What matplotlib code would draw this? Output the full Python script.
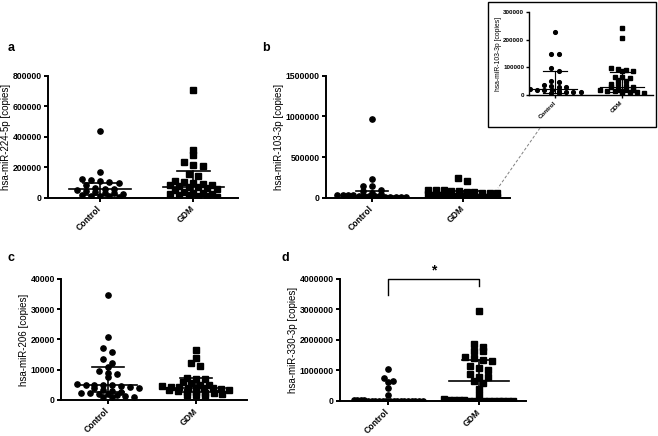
import numpy as np
import matplotlib
matplotlib.use("Agg")
import matplotlib.pyplot as plt
from matplotlib.patches import Rectangle
from matplotlib.lines import Line2D

plt.rcParams['font.family'] = ['Liberation Sans', 'DejaVu Sans']

W, H = 658, 436
groups = ["Control", "GDM"]

# panel a: hsa-miR-224-5p
a_ctrl = [437000, 170000, 120000, 115000, 110000, 100000, 95000, 80000, 65000, 60000, 58000,
          50000, 45000, 40000, 30000, 28000, 25000, 15000, 12000, 10000, 8000, 5000]
a_gdm = [705000, 310000, 280000, 235000, 215000, 210000, 155000, 140000, 110000, 100000, 95000,
         90000, 85000, 80000, 75000, 72000, 70000, 65000, 60000, 50000, 35000, 30000, 28000,
         25000, 22000, 20000, 15000, 10000, 8000, 5000]
a_med = [58000, 72000]
a_q1 = [18000, 24000]
a_q3 = [98000, 175000]

# panel b (and inset): hsa-miR-103-3p
b_ctrl = [970000, 229000, 147000, 147000, 96000, 88000, 52000, 48000, 35000, 32000, 30000,
          28000, 20000, 19000, 18000, 17000, 15000, 12000, 11000, 10000, 8000, 6000]
b_gdm = [241000, 205000, 96000, 94000, 90000, 86000, 85000, 66000, 64000, 62000, 54000, 52000,
         40000, 38000, 32000, 30000, 28000, 22000, 20000, 18000, 17000, 16000, 15000, 14000,
         12000, 10000, 8000, 6000]
b_med = [22000, 30000]
b_q1 = [8000, 12000]
b_q3 = [88000, 84000]

# panel c: hsa-miR-206
c_ctrl = [34700, 20900, 17100, 15800, 13400, 12100, 11000, 9500, 9000, 8500, 7700, 5200, 5000,
          5000, 4900, 4800, 4700, 4200, 4000, 3800, 3200, 3000, 2800, 2400, 2200, 2000, 1900,
          1800, 1200, 1100, 1000, 900]
c_gdm = [16500, 13800, 12100, 11200, 7400, 7000, 6800, 6000, 5500, 5000, 4800, 4600, 4400, 4200,
         4100, 4000, 3900, 3800, 3600, 3400, 3200, 3000, 2800, 2600, 2400, 2200, 2000, 1800,
         1500, 1300]
c_med = [5100, 4000]
c_q1 = [2650, 2600]
c_q3 = [11000, 7200]

# panel d: hsa-miR-330-3p
d_ctrl = [1040000, 765000, 656000, 613000, 415000, 197000, 30000, 25000, 20000, 18000, 15000,
          12000, 10000, 9000, 8000, 7000, 6000, 5000, 4000, 3000, 2500, 2000, 1500, 1000, 800, 500]
d_gdm = [2960000, 1860000, 1760000, 1650000, 1640000, 1430000, 1400000, 1344000, 1310000,
         1150000, 1070000, 1016000, 875000, 800000, 800000, 656000, 580000, 400000, 197000,
         60000, 40000, 30000, 25000, 20000, 15000, 12000, 10000, 8000, 6000, 5000, 4000, 3000,
         2000, 1000]
d_med = [10000, 656000]
d_q1 = [2000, 20000]
d_q3 = [30000, 1344000]


def swarm(vals, h, dx, maxw):
    # column-scatter layout: points closer than h share a row
    v = np.sort(np.array(vals, dtype=float))[::-1]
    xs = np.zeros(len(v))
    i = 0
    while i < len(v):
        j = i
        while j < len(v) and v[i] - v[j] <= h:
            j += 1
        n = j - i
        step = dx if n < 2 else min(dx, maxw / (n - 1))
        xs[i:j] = (np.arange(n) - (n - 1) / 2) * step
        i = j
    return v, xs


def panel(rect, ctrl, gdm, med, q1, q3, ymax, yticks, ylabel, xlim,
          fs_tick=6.2, fs_lab=7, ms=3.8, lw=1.4, dx=0.1, inset=False):
    ax = fig.add_axes(rect)
    h = ymax * 0.034
    for k, (vals, mk) in enumerate([(ctrl, 'o'), (gdm, 's')]):
        v, xs = swarm(vals, h, dx, 0.76)
        ax.plot(k + xs, v, linestyle='none', marker=mk, ms=ms, color='black', mec='black')
        ax.plot([k - 0.33, k + 0.33], [med[k], med[k]], color='black', lw=lw * 0.85)
        ax.plot([k - 0.18, k + 0.18], [q1[k], q1[k]], color='black', lw=lw * 0.85)
        ax.plot([k - 0.18, k + 0.18], [q3[k], q3[k]], color='black', lw=lw * 0.85)
        ax.plot([k, k], [q1[k], q3[k]], color='black', lw=lw * 0.85)
    ax.set_ylim(0, ymax)
    ax.set_xlim(*xlim)
    ax.set_yticks(yticks)
    ax.set_yticklabels([str(t) for t in yticks], fontweight='bold', fontsize=fs_tick)
    ax.set_xticks([0, 1])
    ax.set_xticklabels(groups, rotation=45, ha='right', va='center', rotation_mode='anchor',
                       fontweight='bold', fontsize=fs_tick)
    ax.tick_params(axis='both', direction='out', length=3 if not inset else 2, width=lw, pad=1.5)
    ax.tick_params(axis='x', pad=4 if not inset else 3)
    for s in ['top', 'right']:
        ax.spines[s].set_visible(False)
    for s in ['left', 'bottom']:
        ax.spines[s].set_linewidth(lw)
    ax.set_ylabel(ylabel, fontsize=fs_lab, labelpad=1)
    ax.patch.set_alpha(0)
    return ax


fig = plt.figure(figsize=(W / 100, H / 100), dpi=100)

panel([0.0729, 0.5466, 0.2888, 0.2798], a_ctrl, a_gdm, a_med, a_q1, a_q3, 800000,
      [0, 200000, 400000, 600000, 800000], "hsa-miR-224-5p [copies]", (-0.56, 1.48))
panel([0.4954, 0.5466, 0.2796, 0.2798], b_ctrl, b_gdm, b_med, b_q1, b_q3, 1500000,
      [0, 500000, 1000000, 1500000], "hsa-miR-103-3p [copies]", (-0.505, 1.52))
panel([0.0927, 0.0826, 0.2827, 0.2775], c_ctrl, c_gdm, c_med, c_q1, c_q3, 40000,
      [0, 10000, 20000, 30000, 40000], "hsa-miR-206 [copies]", (-0.53, 1.58))
axd = panel([0.5167, 0.0803, 0.2827, 0.2798], d_ctrl, d_gdm, d_med, d_q1, d_q3, 4000000,
            [0, 1000000, 2000000, 3000000, 4000000], "hsa-miR-330-3p [copies]", (-0.53, 1.52))

# significance bracket on d
axd.plot([0, 0, 1, 1], [3480000, 4000000, 4000000, 3770000], color='black', lw=1.0, clip_on=False)
axd.text(0.5, 4060000, "*", ha='center', va='bottom', fontsize=10, fontweight='bold')

# inset box and zoomed panel b
fig.patches.append(Rectangle((0.7416, 0.7087), 0.2553, 0.2867, transform=fig.transFigure,
                             fill=False, ec='black', lw=1.0))
panel([0.8040, 0.7821, 0.1884, 0.1904], b_ctrl, b_gdm, b_med, b_q1, b_q3, 300000,
      [0, 100000, 200000, 300000], "hsa-miR-103-3p [copies]", (-0.39, 1.46),
      fs_tick=4.5, fs_lab=4.9, ms=2.7, lw=1.0, dx=0.11, inset=True)
fig.lines.append(Line2D([540 / W, 498 / W], [1 - 128 / H, 1 - 188 / H],
                        transform=fig.transFigure, color='gray', lw=0.7, ls=(0, (3, 2))))

for lab, x, y in [("a", 8, 48), ("b", 262, 48), ("c", 8, 258), ("d", 282, 258)]:
    fig.text(x / W, 1 - y / H, lab, fontsize=9, fontweight='bold', ha='left', va='center')

fig.savefig("out.png", dpi=100)
